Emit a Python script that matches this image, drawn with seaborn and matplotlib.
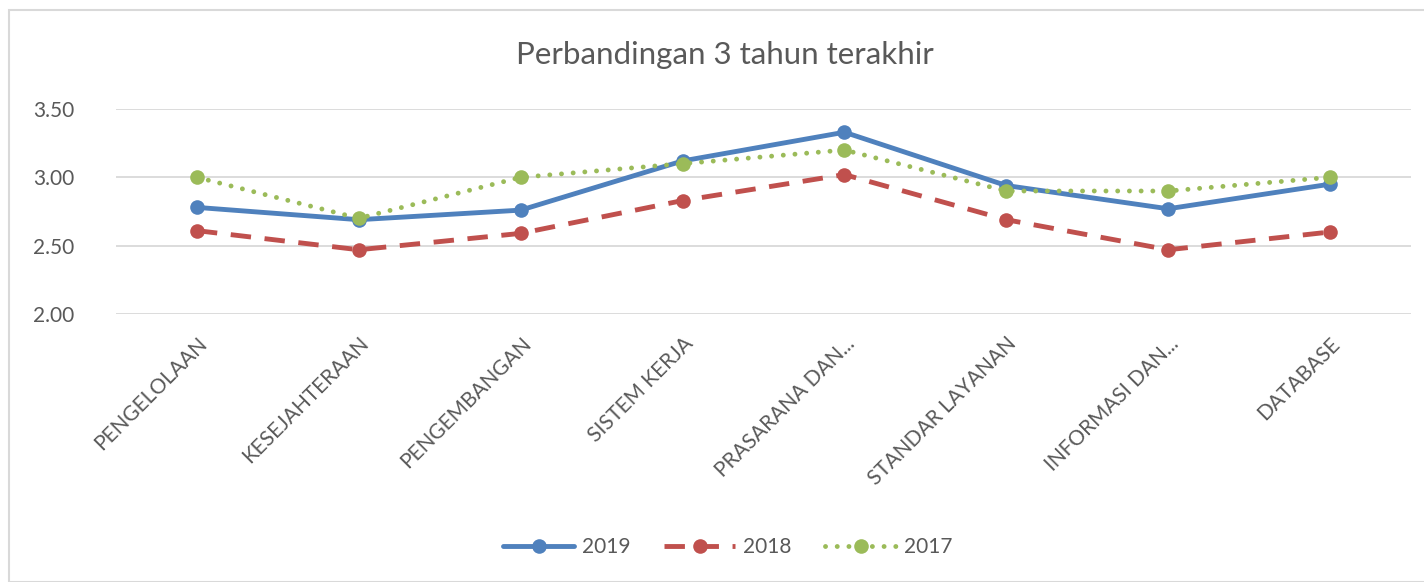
# ==========================================
# Perbandingan 3 tahun terakhir - line chart
# ==========================================

import pandas as pd
import numpy as np

import matplotlib
matplotlib.use("Agg")
import matplotlib.pyplot as plt
from matplotlib.patches import Rectangle
import seaborn as sns

# ==========================
# Data
# ==========================

categories = [
    "PENGELOLAAN",
    "KESEJAHTERAAN",
    "PENGEMBANGAN",
    "SISTEM KERJA",
    "PRASARANA DAN...",
    "STANDAR LAYANAN",
    "INFORMASI DAN...",
    "DATABASE",
]

values_2019 = [2.78, 2.69, 2.76, 3.12, 3.33, 2.94, 2.77, 2.95]
values_2018 = [2.61, 2.47, 2.59, 2.83, 3.02, 2.69, 2.47, 2.60]
values_2017 = [3.00, 2.70, 3.00, 3.10, 3.20, 2.90, 2.90, 3.00]

y_ticks = [2.00, 2.50, 3.00, 3.50]

# ==========================
# Style
# ==========================

sns.set_theme(style="white")
plt.rcParams["font.family"] = ["Lato", "DejaVu Sans"]

text_color = "#595959"
grid_color = "#D9D9D9"

series = [
    ("2019", values_2019, "#4F81BD", "-"),
    ("2018", values_2018, "#C0504D", (0, (4.2, 2.8))),
    ("2017", values_2017, "#9BBB59", (0, (0.01, 2.4))),
]

# ==========================
# Plot
# ==========================

fig = plt.figure(figsize=(14.24, 5.82), dpi=100)
ax = fig.add_axes([116 / 1424, 1 - 314 / 582, 1295 / 1424, 205 / 582])

x_pos = np.arange(len(categories))

for name, vals, color, ls in series:
    df = pd.DataFrame({"x": x_pos, "y": vals})
    sns.lineplot(
        data=df, x="x", y="y", ax=ax,
        color=color, linestyle=ls, linewidth=3.5,
        marker="o", markersize=10.5, markeredgewidth=0,
        dash_capstyle="round" if name == "2017" else "butt",
        label=name,
    )

ax.set_xlim(-0.5, len(categories) - 0.5)
ax.set_ylim(2.0, 3.5)
ax.set_yticks(y_ticks)
ax.set_yticklabels([f"{v:.2f}" for v in y_ticks], color=text_color, fontsize=15)
ax.set_xticks(x_pos)
ax.set_xticklabels(categories, rotation=45, ha="right", rotation_mode="anchor",
                   color=text_color, fontsize=15)
ax.tick_params(axis="x", length=0, pad=14)
ax.tick_params(axis="y", length=0, pad=30)

ax.grid(axis="y", color=grid_color, linewidth=1.3)
ax.set_axisbelow(True)
for s in ax.spines.values():
    s.set_visible(False)
ax.set_xlabel("")
ax.set_ylabel("")

ax.get_legend().remove()
handles, labels = ax.get_legend_handles_labels()
fig.legend(
    handles, labels, loc="center", ncol=3, frameon=False,
    bbox_to_anchor=(728 / 1424, 1 - 547 / 582),
    fontsize=15, handlelength=3.4, columnspacing=1.6, handletextpad=0.4,
    labelcolor=text_color,
)

fig.text(725 / 1424, 1 - 55 / 582, "Perbandingan 3 tahun terakhir",
         ha="center", va="center", fontsize=22.5, color=text_color)

# chart border
fig.patches.append(Rectangle((9 / 1424, 0), 1.0, 1 - 10 / 582,
                             transform=fig.transFigure, fill=False,
                             edgecolor="#D9D9D9", linewidth=1.5))

fig.savefig("out.png", dpi=100)
